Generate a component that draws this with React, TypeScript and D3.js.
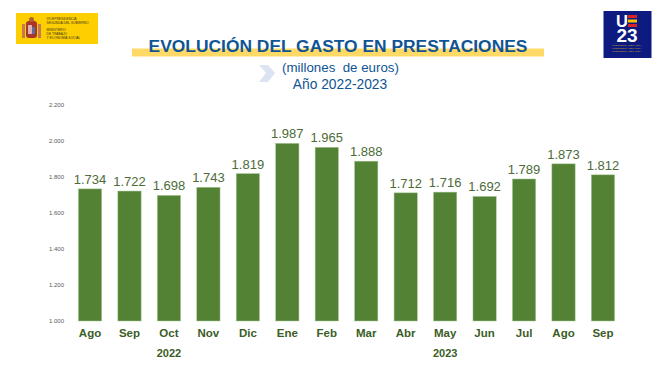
import React from "react";
import * as d3 from "d3";

const months = ["Ago","Sep","Oct","Nov","Dic","Ene","Feb","Mar","Abr","May","Jun","Jul","Ago","Sep"];
const gasto = [1734,1722,1698,1743,1819,1987,1965,1888,1712,1716,1692,1789,1873,1812];
const yTicks = [1000,1200,1400,1600,1800,2000,2200];
const years = [{ label: "2022", from: 0, to: 4 }, { label: "2023", from: 5, to: 13 }];
const logoLines = ["VICEPRESIDENCIA","SEGUNDA DEL GOBIERNO"];
const logoLines2 = ["MINISTERIO","DE TRABAJO","Y ECONOMÍA SOCIAL"];

const fmt = (v: number) => d3.format(",.0f")(v).replace(/,/g, ".");
const keys = months.map((_, i) => String(i));
const x = d3.scaleBand<string>().domain(keys).range([70.3, 622.7]).paddingInner(0.41).paddingOuter(0.205);
const y = d3.scaleLinear().domain([1000, 2200]).range([321, 105]);
const green = "#548235";
const dark = "#3b5d26";
const valueColor = "#4c6b38";
const blue = "#0f5494";
const sans = "'Liberation Sans', Arial, sans-serif";

export default function App() {
  const cx = (i: number) => (x(String(i)) as number) + x.bandwidth() / 2;
  return (
    <svg width={670} height={376} viewBox="0 0 670 376" style={{ position: "absolute", left: 0, top: 0, background: "#fff", fontFamily: sans }}>
      <rect x={16} y={13} width={82} height={31} fill="#fecf00" />
      <g>
        <rect x={22} y={24} width={3} height={14} fill="#c0705a" opacity={0.9} />
        <rect x={38} y={24} width={3} height={14} fill="#c0705a" opacity={0.9} />
        <rect x={26} y={21} width={11} height={17} rx={3} fill="#a8362a" />
        <rect x={28} y={25} width={4} height={9} fill="#e2b0b0" />
        <rect x={32} y={27} width={3} height={7} fill="#5c6f9c" />
        <circle cx={31.5} cy={19.5} r={2.5} fill="#b5612a" />
      </g>
      {logoLines.map((t, i) => (
        <text key={t} x={46.5} y={20 + i * 4.3} fontSize={3.3} fill="#3a3320">{t}</text>
      ))}
      {logoLines2.map((t, i) => (
        <text key={t} x={46.5} y={31 + i * 4.2} fontSize={3.3} fill="#3a3320">{t}</text>
      ))}

      <rect x={603.5} y={11} width={48} height={47} fill="#0d1a80" />
      <text x={622} y={27} fontSize={16.5} fontWeight={700} fill="#fff" textAnchor="middle">U</text>
      <rect x={628} y={15} width={9} height={3} fill="#d8232a" />
      <rect x={628} y={19.5} width={9} height={3} fill="#f6c400" />
      <rect x={628} y={24} width={9} height={3} fill="#d8232a" />
      <text x={627} y={42} fontSize={19} fontWeight={700} fill="#fff" textAnchor="middle">23</text>
      {[0, 1, 2].map(i => (
        <text key={i} x={627} y={46 + i * 2.8} fontSize={2.4} fill="#c9a227" textAnchor="middle">PRESIDENCIA ESPAÑOLA</text>
      ))}

      <rect x={132} y={48.5} width={412} height={8} fill="#ffd966" />
      <text x={338} y={51.5} fontSize={17.4} fontWeight={700} fill={blue} textAnchor="middle">EVOLUCIÓN DEL GASTO EN PRESTACIONES</text>
      <path d="M259 65 L268 65 L275 73 L268 82 L259 82 L266 73 Z" fill="#dce4f2" />
      <text x={340.5} y={72} fontSize={13.3} fill={blue} textAnchor="middle" xmlSpace="preserve">(millones  de euros)</text>
      <text x={340} y={89} fontSize={13.8} fill={blue} textAnchor="middle">Año 2022-2023</text>

      {yTicks.map(t => (
        <text key={t} x={64} y={y(t) + 2} fontSize={6} fill="#595959" textAnchor="end">{fmt(t)}</text>
      ))}

      {gasto.map((v, i) => (
        <g key={i}>
          <rect x={x(String(i))} y={y(v)} width={x.bandwidth()} height={y(1000) - y(v)} fill={green} stroke="#a9c89a" strokeWidth={0.5} />
          <text x={cx(i)} y={y(v) - 5} fontSize={13} fill={valueColor} textAnchor="middle">{fmt(v)}</text>
          <text x={cx(i)} y={337} fontSize={11.5} fontWeight={700} fill={dark} textAnchor="middle">{months[i]}</text>
        </g>
      ))}
      {years.map(r => (
        <text key={r.label} x={(cx(r.from) + cx(r.to)) / 2} y={357} fontSize={11} fontWeight={700} fill={dark} textAnchor="middle">{r.label}</text>
      ))}
    </svg>
  );
}
